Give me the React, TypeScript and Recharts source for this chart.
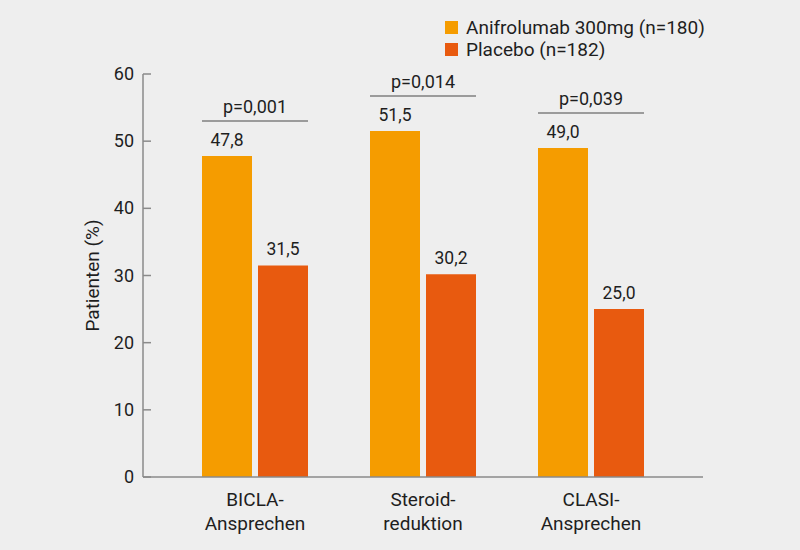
import React from 'react';
import { BarChart, Bar, XAxis, YAxis, Legend, LabelList } from 'recharts';

const categories = ['BICLA-\nAnsprechen', 'Steroid-\nreduktion', 'CLASI-\nAnsprechen'];
const anifrolumab = [47.8, 51.5, 49.0];
const placebo = [31.5, 30.2, 25.0];
const pValues = ['p=0,001', 'p=0,014', 'p=0,039'];
const yTicks = [0, 10, 20, 30, 40, 50, 60];
const seriesNames = ['Anifrolumab 300mg (n=180)', 'Placebo (n=182)'];
const colors = ['#F59C00', '#E85A0F'];

const data = categories.map((c, i) => ({
  category: c,
  anifrolumab: anifrolumab[i],
  placebo: placebo[i],
}));

const FONT = 'Roboto, "Liberation Sans", sans-serif';
const TEXT = '#1e1e1e';
const AXIS = '#8a8a8a';
const BAR_SIZE = 50;
const BAR_GAP = 6;

const fmt = (v: any) => Number(v).toFixed(1).replace('.', ',');

const YTick = (props: any) => {
  const { x, y, payload } = props;
  return (
    <g>
      <line x1={x + 9} x2={x + 17} y1={y} y2={y} stroke={AXIS} strokeWidth={1.5} />
      <text x={x} y={y} dy="0.34em" textAnchor="end" fontFamily={FONT} fontSize={18} fill={TEXT}>
        {payload.value}
      </text>
    </g>
  );
};

const RightEndTick = (props: any) => {
  const { x, y } = props;
  return <line x1={x} x2={x} y1={y} y2={y - 9} stroke={AXIS} strokeWidth={1.5} />;
};

const XTick = (props: any) => {
  const { x, y, payload } = props;
  const lines = String(payload.value).split('\n');
  return (
    <g>
      {lines.map((l, i) => (
        <text key={i} x={x} y={y + 29 + i * 23.5} textAnchor="middle" fontFamily={FONT} fontSize={19} fill={TEXT}>
          {l}
        </text>
      ))}
    </g>
  );
};

const AniLabel = (props: any) => {
  const { x, y, width, index, value } = props;
  const left = x;
  const right = x + width * 2 + BAR_GAP;
  const lineY = y - 35;
  return (
    <g>
      <text x={x + width / 2} y={y - 10} textAnchor="middle" fontFamily={FONT} fontSize={17.5} fill={TEXT}>
        {fmt(value)}
      </text>
      <line x1={left} x2={right} y1={lineY} y2={lineY} stroke="#9b9b9b" strokeWidth={2} />
      <text x={(left + right) / 2} y={lineY - 8} textAnchor="middle" fontFamily={FONT} fontSize={18} fill={TEXT}>
        {pValues[index]}
      </text>
    </g>
  );
};

const PlaLabel = (props: any) => {
  const { x, y, width, value } = props;
  return (
    <text x={x + width / 2} y={y - 10} textAnchor="middle" fontFamily={FONT} fontSize={17.5} fill={TEXT}>
      {fmt(value)}
    </text>
  );
};

const LegendContent = () => (
  <div style={{ fontFamily: FONT, fontSize: 19, color: TEXT }}>
    {seriesNames.map((n, i) => (
      <div key={n} style={{ display: 'flex', alignItems: 'center', height: 22, whiteSpace: 'nowrap' }}>
        <span style={{ display: 'inline-block', width: 13, height: 13, background: colors[i], marginRight: 8 }} />
        <span>{n}</span>
      </div>
    ))}
  </div>
);

const YLabel = (props: any) => {
  const { viewBox } = props;
  const cx = 92;
  const cy = viewBox.y + viewBox.height / 2;
  return (
    <text
      x={cx}
      y={cy}
      transform={`rotate(-90 ${cx} ${cy})`}
      textAnchor="middle"
      dominantBaseline="central"
      fontFamily={FONT}
      fontSize={19}
      fill={TEXT}
    >
      Patienten (%)
    </text>
  );
};

export default function App() {
  return (
    <div style={{ position: 'absolute', left: 0, top: 0, width: 800, height: 550, background: '#eeeeee' }}>
      <BarChart
        width={800}
        height={550}
        data={data}
        margin={{ top: 74, right: 77, bottom: 13, left: 80 }}
        barGap={BAR_GAP}
      >
        <XAxis
          dataKey="category"
          axisLine={{ stroke: AXIS, strokeWidth: 1.5 }}
          tickLine={false}
          tickSize={0}
          tickMargin={0}
          height={60}
          padding={{ left: 28, right: 28 }}
          tick={<XTick />}
          interval={0}
        />
        <YAxis
          yAxisId="left"
          domain={[0, 60]}
          ticks={yTicks}
          width={63}
          axisLine={{ stroke: AXIS, strokeWidth: 1.5 }}
          tickLine={false}
          tickSize={0}
          tickMargin={9}
          tick={<YTick />}
          label={<YLabel />}
          interval={0}
        />
        <YAxis
          yAxisId="right"
          orientation="right"
          domain={[0, 60]}
          ticks={[0]}
          width={20}
          axisLine={false}
          tickLine={false}
          tickSize={0}
          tickMargin={0}
          tick={<RightEndTick />}
        />
        <Legend
          layout="vertical"
          align="center"
          verticalAlign="middle"
          wrapperStyle={{ top: 16, left: 445, width: 330, height: 50 }}
          content={<LegendContent />}
        />
        <Bar dataKey="anifrolumab" yAxisId="left" name={seriesNames[0]} fill={colors[0]} barSize={BAR_SIZE} isAnimationActive={false}>
          <LabelList dataKey="anifrolumab" content={<AniLabel />} />
        </Bar>
        <Bar dataKey="placebo" yAxisId="left" name={seriesNames[1]} fill={colors[1]} barSize={BAR_SIZE} isAnimationActive={false}>
          <LabelList dataKey="placebo" content={<PlaLabel />} />
        </Bar>
      </BarChart>
    </div>
  );
}
